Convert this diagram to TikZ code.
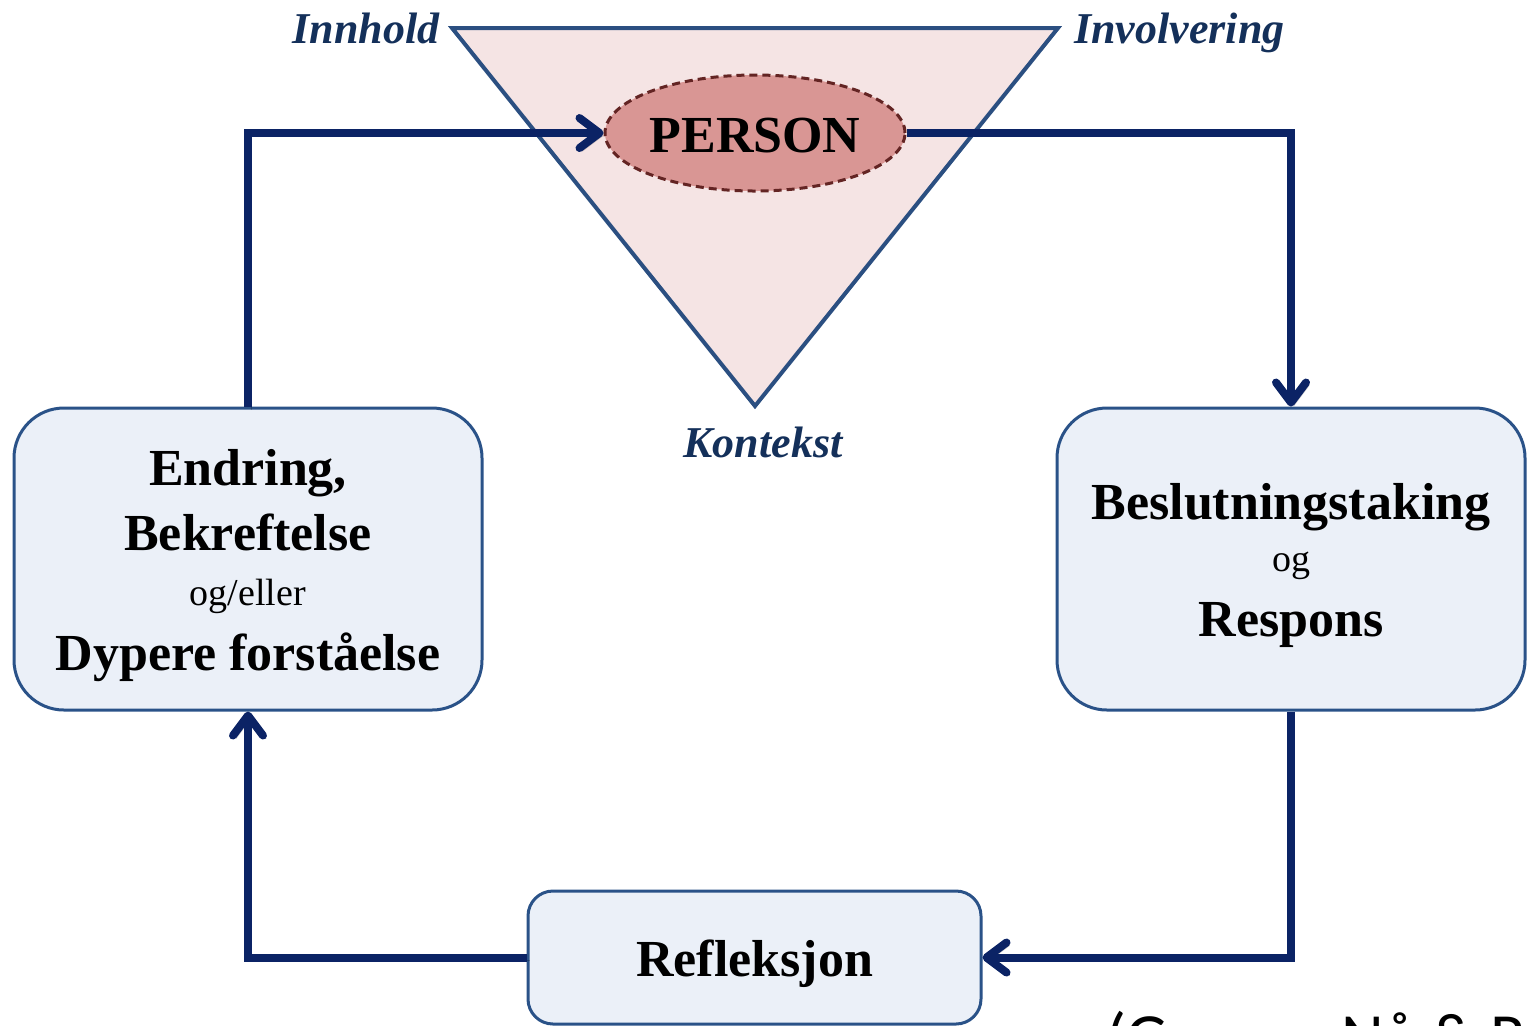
\documentclass[tikz,border=0pt]{standalone}
\usepackage{fontspec}
\setmainfont{Liberation Serif}
\newfontfamily\kildefont{Carlito}
\usetikzlibrary{positioning, shapes.geometric, arrows.meta}
\definecolor{navy}{HTML}{0B2365}
\definecolor{labelblue}{HTML}{14305A}
\definecolor{trifill}{HTML}{F5E4E4}
\definecolor{triline}{HTML}{2B4F81}
\definecolor{personfill}{HTML}{D99694}
\definecolor{personline}{HTML}{632423}
\definecolor{boxfill}{HTML}{EBF0F8}
\definecolor{boxline}{HTML}{2A5288}
\newcommand{\topstrut}{\rule{0pt}{24.5pt}}

\begin{document}
\begin{tikzpicture}[x=0.5pt, y=-0.5pt, node distance=10pt,
  stage/.style={draw=boxline, line width=1.5pt, fill=boxfill, rounded corners=25pt,
    align=center, minimum width=234pt, minimum height=151pt,
    font=\bfseries\fontsize{26}{32.5}\selectfont},
  flow/.style={draw=navy, line width=4pt,
    preaction={draw=black, opacity=0.2, transform canvas={xshift=1.5pt, yshift=-1.5pt}},
    -{Straight Barb[length=10pt, width=15pt, line cap=round, line join=round]}},
  corner/.style={font=\bfseries\itshape\fontsize{22}{26}\selectfont, text=labelblue,
    inner sep=0pt, text depth=0pt}]
  \useasboundingbox (0,0) rectangle (1531,1025);

  % the triangle
  \coordinate (tl) at (452,28);
  \coordinate (tr) at (1058,28);
  \coordinate (bt) at (755,406);
  \draw[fill=trifill, draw=triline, line width=2pt] (tl) -- (tr) -- (bt) -- cycle;
  \node[corner, left=6pt of tl]   (innhold)     {Innhold};
  \node[corner, right=8pt of tr]  (involvering) {Involvering};
  \node[corner, below=10.5pt of bt, xshift=4pt] (kontekst) {Kontekst};

  \node[draw=personline, dash pattern=on 4pt off 2.5pt, line width=1.5pt, fill=personfill,
    ellipse, inner sep=0pt, minimum width=150pt, minimum height=58pt,
    font=\bfseries\fontsize{26}{30}\selectfont] (person) at (755,133) {\rule{0pt}{20pt}PERSON};

  % the boxes
  \node[stage] (endring) at (248,559)
    {\topstrut Endring,\\ Bekreftelse\\[-5pt] {\mdseries\fontsize{19}{22}\selectfont og/eller}\\ Dypere forståelse};
  \node[stage] (beslutning) at (1291,559)
    {\topstrut Beslutningstaking\\[-6.5pt] {\mdseries\fontsize{19}{22}\selectfont og}\\ Respons};
  \node[stage, rounded corners=12.5pt, minimum width=226.5pt, minimum height=66.5pt] (refleksjon)
    at (754.5,957.5) {\topstrut Refleksjon};

  \node[font=\kildefont\fontsize{33}{38}\selectfont, anchor=base west, inner sep=0pt] (kilde)
    at (1106,1059) {(Gunnar Nå \& Ro)};

  \draw[flow] (endring.north) |- (person.west);
  \draw[flow] (person.east) -| (beslutning.north);
  \draw[flow] (beslutning.south) |- (refleksjon.east);
  \draw[flow] (refleksjon.west) -| (endring.south);
\end{tikzpicture}
\end{document}
